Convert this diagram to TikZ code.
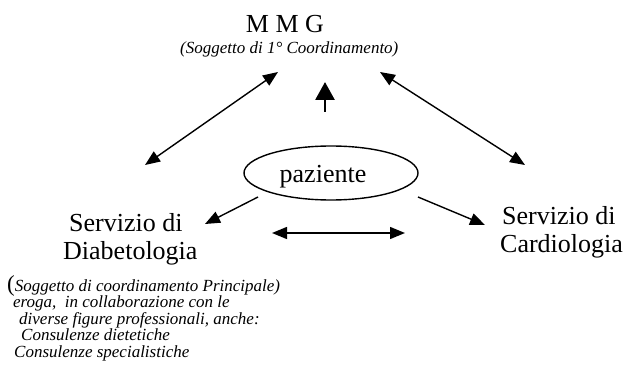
\documentclass[tikz,border=0pt]{standalone}
\usepackage{fontspec}
\setmainfont{Liberation Serif}
\usetikzlibrary{arrows.meta,shapes.geometric}
\begin{document}
\begin{tikzpicture}[x=1pt,y=-1pt,
  big/.style={font=\fontsize{26}{28}\selectfont, inner sep=0pt},
  small/.style={font=\fontsize{17}{17}\selectfont\itshape, inner sep=0pt, anchor=base west},
  conn/.style={line width=1.4pt, -{Triangle[length=15pt,width=12pt]}},
  dconn/.style={line width=1.4pt, {Triangle[length=15pt,width=12pt]}-{Triangle[length=15pt,width=12pt]}},
  thick arrow/.style={line width=2.8pt, -{Triangle[length=18pt,width=19pt]}}
]
\useasboundingbox (0,0) rectangle (624,374);
% MMG
\node[big, anchor=base] (mmg) at (285,33) {M M G};
\node[small] (mmgsub) at (180,54) {(Soggetto di 1° Coordinamento)};
% patient
\node[ellipse, draw, line width=1.4pt, minimum width=174pt, minimum height=54pt, inner sep=0pt] (paz) at (331,173) {};
\node[big, anchor=base] (paztext) at (323,183) {paziente};
% Diabetologia
\node[big, anchor=base west] (diab1) at (69,232) {Servizio di};
\node[big, anchor=base west] (diab2) at (63,260) {Diabetologia};
% Cardiologia
\node[big, anchor=base west] (card1) at (502,225) {Servizio di};
\node[big, anchor=base west] (card2) at (500,253) {Cardiologia};
% notes
\node[small] (n1) at (7,291) {{\upshape\fontsize{23}{23}\selectfont(}Soggetto di coordinamento Principale)};
\node[small] (n2) at (13,307.7) {eroga,\ \ in collaborazione con le};
\node[small] (n3) at (19,324.3) {diverse figure professionali, anche:};
\node[small] (n4) at (21,340.7) {Consulenze dietetiche};
\node[small] (n5) at (14,357.3) {Consulenze specialistiche};
% connector ends
\coordinate (lTop) at (278,72);
\coordinate (lBot) at (145,165);
\coordinate (rTop) at (380,72);
\coordinate (rBot) at (525,165);
\coordinate (mBot) at (325,112);
\coordinate (mTop) at (325,82);
\coordinate (pL) at (258,197);
\coordinate (dTip) at (205,224);
\coordinate (pR) at (418,197);
\coordinate (cTip) at (485,225);
\coordinate (hL) at (272,233);
\coordinate (hR) at (405,233);
% connectors
\draw[dconn] (lBot) -- (lTop);
\draw[dconn] (rBot) -- (rTop);
\draw[thick arrow] (mBot) -- (mTop);
\draw[conn] (pL) -- (dTip);
\draw[conn] (pR) -- (cTip);
\draw[dconn] (hL) -- (hR);
\end{tikzpicture}
\end{document}
